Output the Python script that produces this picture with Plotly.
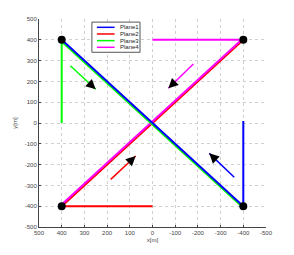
import plotly.graph_objects as go

# ---- data ----
series_names = ["Plane1", "Plane2", "Plane3", "Plane4"]
series_colors = ["#0000ff", "#ff0000", "#00ff00", "#ff00ff"]
plane1_x = [-400, -400, 400]
plane1_y = [10, -400, 400]
plane2_x = [0, 400, -400]
plane2_y = [-400, -400, 400]
plane3_x = [400, 400, 400, -400]
plane3_y = [0, 400, 392, -408]
plane4_x = [0, -400, -400, 400]
plane4_y = [400, 400, 408, -392]
corner_x = [400, -400, 400, -400]
corner_y = [400, 400, -400, -400]
# direction arrows: start -> tip, per plane
arrow_x0 = [-360, 184, 362, -180]
arrow_y0 = [-261, -271, 275, 284]
arrow_x1 = [-250, 74, 250, -70]
arrow_y1 = [-146, -159, 162, 167]
tick_vals = [500, 400, 300, 200, 100, 0, -100, -200, -300, -400, -500]

xs = [plane1_x, plane2_x, plane3_x, plane4_x]
ys = [plane1_y, plane2_y, plane3_y, plane4_y]

fig = go.Figure()
draw_order = [1, 3, 2, 0]
for i in draw_order:
    fig.add_trace(go.Scatter(x=xs[i], y=ys[i], mode="lines", name=series_names[i],
                             line=dict(color=series_colors[i], width=2), showlegend=False))

for i in range(4):
    fig.add_trace(go.Scatter(x=[arrow_x0[i], arrow_x1[i]], y=[arrow_y0[i], arrow_y1[i]],
                             mode="lines", line=dict(color=series_colors[i], width=1.5),
                             showlegend=False))
    fig.add_annotation(x=arrow_x1[i], y=arrow_y1[i], ax=arrow_x1[i] + (arrow_x0[i]-arrow_x1[i])*0.25,
                       ay=arrow_y1[i] + (arrow_y0[i]-arrow_y1[i])*0.25,
                       xref="x", yref="y", axref="x", ayref="y", text="", showarrow=True,
                       arrowhead=2, arrowsize=1.3, arrowwidth=1.5, arrowcolor="black")

fig.add_trace(go.Scatter(x=corner_x, y=corner_y, mode="markers",
                         marker=dict(color="black", size=8), showlegend=False))

# manual compact legend
lx0, lx1, ly0, ly1 = 0.233, 0.445, 0.84, 0.985
fig.add_shape(type="rect", xref="paper", yref="paper", x0=lx0, x1=lx1, y0=ly0, y1=ly1,
              line=dict(color="#555", width=1), fillcolor="white", layer="above")
for i, name in enumerate(series_names):
    yy = ly1 - 0.025 - i * 0.032
    fig.add_shape(type="line", xref="paper", yref="paper", x0=lx0 + 0.022, x1=lx0 + 0.1,
                  y0=yy, y1=yy, line=dict(color=series_colors[i], width=1.5), layer="above")
    fig.add_annotation(xref="paper", yref="paper", x=lx0 + 0.115, y=yy, text=name,
                       showarrow=False, xanchor="left", yanchor="middle",
                       font=dict(size=6, color="#222"))

axis_common = dict(tickvals=tick_vals, ticktext=[str(v) for v in tick_vals],
                   showgrid=True, gridcolor="#d0d0d0", griddash="dot", gridwidth=1,
                   zeroline=False, showline=True, linecolor="#444", linewidth=1,
                   ticks="inside", ticklen=2, tickcolor="#444", automargin=False,
                   tickfont=dict(size=6, color="#444", family="Liberation Sans"))
fig.update_xaxes(range=[500, -500], title=dict(text="x[m]", font=dict(size=6, color="#444"), standoff=2),
                 **axis_common)
fig.update_yaxes(range=[-500, 500], title=dict(text="y[m]", font=dict(size=6, color="#444"), standoff=6),
                 **axis_common)

fig.update_layout(width=294, height=255, margin=dict(l=39, r=28, t=19, b=28, autoexpand=False),
                  plot_bgcolor="white", paper_bgcolor="white",
                  font=dict(family="Liberation Sans"))
fig.write_html("out.html", config={"displayModeBar": False},
               post_script="document.body.style.margin='0';document.body.style.overflow='hidden';")
